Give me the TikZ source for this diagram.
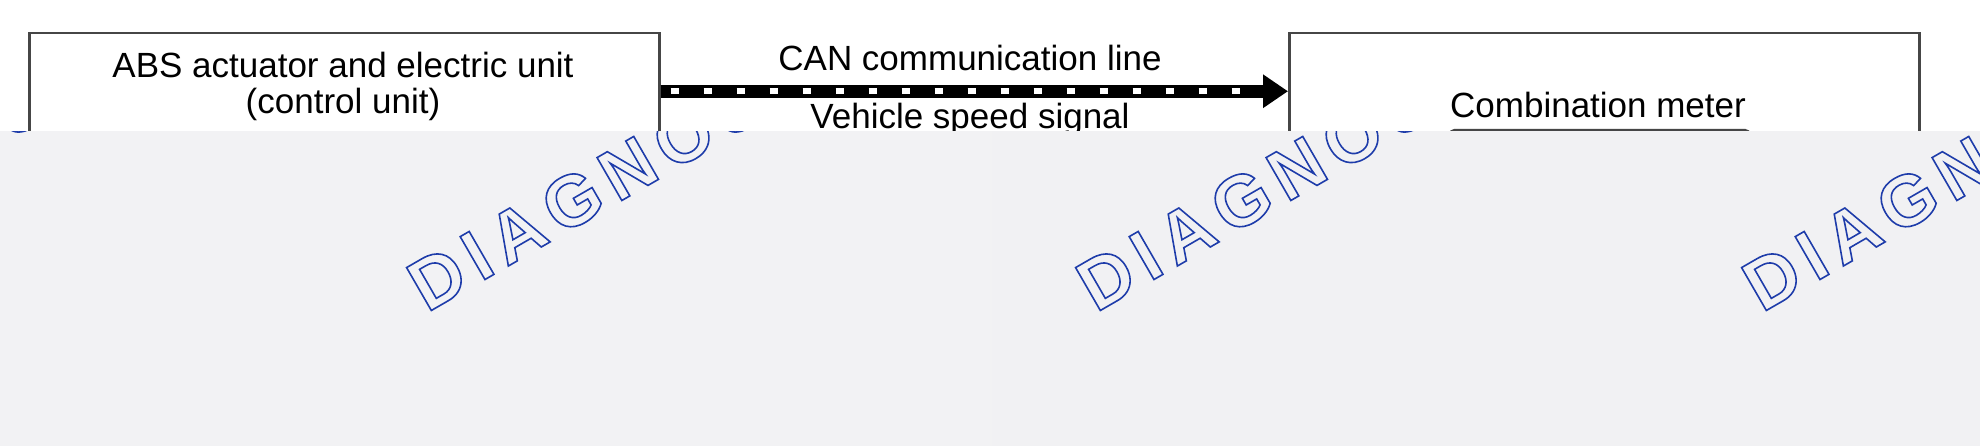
\documentclass[tikz,border=0pt]{standalone}
\usepackage{fontspec}
\setmainfont{Liberation Sans}
\usetikzlibrary{arrows.meta}
\definecolor{boxgray}{RGB}{70,70,70}
\definecolor{panelL}{RGB}{242,242,244}
\definecolor{panelM}{RGB}{233,233,236}
\definecolor{panelR}{RGB}{241,241,243}
\definecolor{wmblue}{RGB}{30,60,170}
\newcommand{\outlined}[1]{\special{pdf:literal direct 1.6 w 1 Tr}#1\special{pdf:literal direct 0 Tr}}
\newcommand{\wmgap}{\kern10pt}
\newcommand{\wmword}{D\wmgap I\wmgap A\wmgap G\wmgap N\wmgap O\wmgap S}
\tikzset{
  unit/.style={draw=boxgray, line width=2.5pt, minimum width=630pt, minimum height=116pt, inner sep=0pt, anchor=north west},
  meterbox/.style={draw=boxgray, line width=2.5pt, rounded corners=4pt, minimum width=299pt, minimum height=60pt, inner sep=0pt, anchor=north west},
  lbl/.style={font=\fontsize{35}{36}\selectfont, inner sep=0pt, anchor=base},
  canline/.style={line width=13pt, -{Triangle[length=25pt,width=32pt]}},
  candash/.style={white, line width=6pt, dash pattern=on 8pt off 25pt, dash phase=23pt, shorten >=28pt},
  wmark/.style={text=wmblue, font=\fontsize{72}{72}\selectfont\bfseries, inner sep=0pt, anchor=base west, rotate=30}
}
\begin{document}
\begin{tikzpicture}[x=1pt, y=-1pt]
\useasboundingbox (0,0) rectangle (1980,446);
\fill[white] (0,0) rectangle (1980,446);
% units
\node[unit] (abs) at (28,32) {};
\node[unit] (meter) at (1288,32) {};
\node[meterbox] (gauge) at (1449,129) {};
\node[lbl] (abs1) at (343,78) {ABS actuator and electric unit};
\node[lbl] (abs2) at (343,114) {(control unit)};
\node[lbl] (meterlbl) at (1598,118) {Combination meter};
% CAN line
\draw[canline] (abs.east) -- (meter.west);
\draw[candash] (abs.east) -- (meter.west);
\node[lbl] (can) at (970,71) {CAN communication line};
\node[lbl] (vss) at (970,129) {Vehicle speed signal};
% grey panel
\shade[left color=panelL, middle color=panelM, right color=panelR] (0,132) rectangle (1980,446);
\begin{scope}
\clip (0,132) rectangle (1980,446);
\foreach \wx [count=\i] in {-290, 427, 1096, 1762}
  \node[wmark] (wm\i) at (\wx,313) {\outlined{\wmword}};
\end{scope}
\end{tikzpicture}
\end{document}
